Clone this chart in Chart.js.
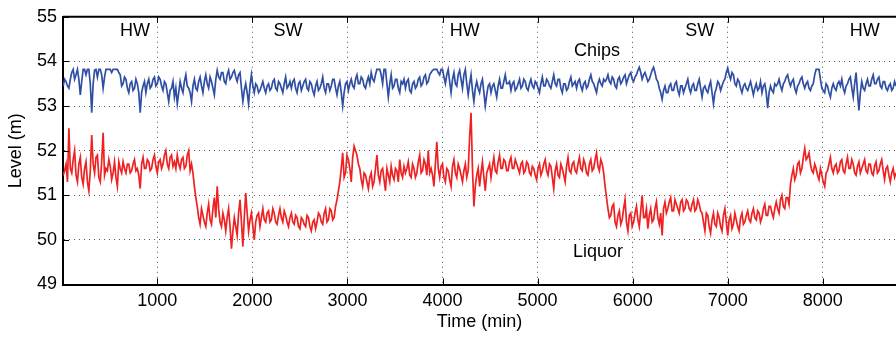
<!DOCTYPE html>
<html>
<head>
<meta charset="utf-8">
<title>Digester levels</title>
<script src="https://cdn.jsdelivr.net/npm/chart.js@4.4.1/dist/chart.umd.min.js"></script>
<style>
  html, body { margin: 0; padding: 0; background: #ffffff; }
  #wrap { width: 896px; height: 338px; position: relative; }
</style>
</head>
<body>
<div id="wrap"><canvas id="levels" width="896" height="338"></canvas></div>
<script>
// Sampling of the level logs (minutes)
const startMin = 10;
const stepMin = 15;

// Liquor level (m), one value per sample, 20 samples (300 min) per row
const liquorLevel = [
  51.45, 51.55, 51.7, 51.3, 52.5, 51.6, 51.5, 51.8, 52.0, 51.45, 51.3, 51.7, 51.85, 51.4, 51.25, 51.6, 51.75, 51.3, 51.1, 51.55,
  52.35, 51.7, 51.5, 51.85, 51.9, 51.4, 51.3, 51.75, 52.4, 51.45, 51.6, 51.55, 51.8, 51.65, 51.35, 51.5, 51.75, 51.4, 51.2, 51.75,
  51.6, 51.5, 51.75, 51.6, 51.5, 51.7, 51.7, 51.5, 51.55, 51.7, 51.8, 51.55, 51.6, 51.45, 51.15, 51.7, 51.85, 51.6, 51.6, 51.8,
  51.75, 51.55, 51.6, 51.8, 51.9, 51.65, 51.5, 51.75, 51.8, 51.6, 51.7, 51.9, 52.0, 51.7, 51.6, 51.85, 51.9, 51.65, 51.75, 51.6,
  51.9, 51.7, 51.6, 51.8, 51.85, 51.6, 51.65, 51.9, 52.0, 51.55, 51.7, 51.5, 51.2, 50.95, 50.75, 50.5, 50.35, 50.7, 50.55, 50.4,
  50.3, 50.6, 50.8, 50.45, 50.35, 50.7, 50.95, 50.5, 51.2, 50.7, 50.4, 50.3, 50.6, 50.45, 50.2, 50.5, 50.7, 50.3, 49.8, 50.2,
  50.5, 50.3, 50.1, 50.6, 50.9, 50.4, 49.85, 50.5, 51.05, 50.6, 50.2, 50.45, 50.6, 50.3, 50.0, 50.4, 50.55, 50.6, 50.3, 50.5,
  50.7, 50.45, 50.4, 50.6, 50.65, 50.4, 50.45, 50.7, 50.6, 50.4, 50.35, 50.55, 50.7, 50.5, 50.4, 50.65, 50.55, 50.4, 50.3, 50.5,
  50.6, 50.4, 50.35, 50.55, 50.5, 50.3, 50.25, 50.5, 50.45, 50.35, 50.3, 50.55, 50.5, 50.3, 50.2, 50.4, 50.45, 50.25, 50.4, 50.6,
  50.55, 50.4, 50.35, 50.6, 50.7, 50.4, 50.45, 50.7, 50.65, 50.45, 50.5, 50.75, 50.9, 51.1, 51.3, 51.6, 51.95, 51.4, 51.5, 51.9,
  51.8, 51.6, 51.3, 51.85, 52.1, 52.0, 51.9, 51.7, 51.6, 51.35, 51.2, 51.5, 51.45, 51.3, 51.15, 51.4, 51.5, 51.2, 51.3, 51.6,
  51.9, 51.45, 51.3, 51.55, 51.6, 51.35, 51.1, 51.6, 51.45, 51.3, 51.65, 51.45, 51.35, 51.6, 51.55, 51.3, 51.8, 51.5, 51.4, 51.65,
  51.5, 51.6, 51.75, 51.45, 51.4, 51.7, 51.6, 51.4, 51.5, 51.75, 51.9, 51.5, 51.55, 51.8, 51.7, 51.45, 52.0, 51.5, 51.6, 51.45,
  51.2, 51.7, 52.2, 51.6, 51.4, 51.65, 51.7, 51.4, 51.3, 51.6, 51.55, 51.35, 51.2, 51.65, 51.8, 51.5, 51.4, 51.7, 51.6, 51.45,
  51.3, 51.55, 51.7, 51.4, 51.55, 52.3, 52.85, 51.6, 50.75, 51.2, 51.45, 51.6, 51.2, 51.5, 51.75, 51.4, 51.1, 51.5, 51.6, 51.7,
  51.4, 51.65, 51.85, 51.55, 51.5, 51.75, 51.9, 51.6, 51.6, 51.8, 51.75, 51.55, 51.55, 51.75, 51.85, 51.6, 51.6, 51.8, 51.7, 51.6,
  51.5, 51.7, 51.75, 51.5, 51.55, 51.75, 51.7, 51.5, 51.45, 51.65, 51.6, 51.45, 51.35, 51.6, 51.7, 51.45, 51.55, 51.7, 51.8, 51.55,
  51.45, 51.7, 51.65, 51.4, 51.15, 51.55, 51.7, 51.45, 51.4, 51.7, 51.6, 51.45, 51.3, 51.65, 51.85, 51.55, 51.5, 51.7, 51.75, 51.55,
  51.5, 51.7, 51.85, 51.6, 51.55, 51.8, 51.7, 51.5, 51.45, 51.7, 51.8, 51.55, 51.6, 51.8, 51.95, 51.65, 51.55, 51.8, 51.7, 51.5,
  51.2, 50.95, 50.7, 50.5, 50.55, 50.75, 50.8, 50.4, 50.3, 50.55, 50.65, 50.35, 50.45, 50.7, 50.9, 50.4, 50.2, 50.55, 50.6, 50.3,
  50.4, 50.6, 50.75, 50.45, 50.3, 50.65, 51.0, 50.5, 50.5, 50.7, 50.25, 50.55, 50.7, 50.4, 50.45, 50.7, 50.85, 50.5, 50.35, 50.6,
  50.1, 50.7, 50.85, 50.6, 50.7, 50.85, 50.95, 50.65, 50.65, 50.9, 50.8, 50.7, 50.6, 50.85, 50.9, 50.65, 50.7, 50.9, 50.85, 50.7,
  50.65, 50.8, 50.9, 50.65, 50.7, 50.9, 50.8, 50.65, 50.6, 50.4, 50.2, 50.6, 50.55, 50.3, 50.15, 50.45, 50.6, 50.35, 50.3, 50.6,
  50.5, 50.3, 50.2, 50.55, 50.7, 50.4, 50.1, 50.45, 50.55, 50.25, 50.35, 50.6, 50.45, 50.3, 50.2, 50.5, 50.6, 50.35, 50.4, 50.55,
  50.65, 50.45, 50.4, 50.6, 50.7, 50.5, 50.45, 50.65, 50.6, 50.4, 50.5, 50.7, 50.8, 50.55, 50.55, 50.75, 50.75, 50.6, 50.5, 50.7,
  50.85, 50.7, 50.6, 50.9, 51.0, 50.75, 50.7, 50.95, 50.95, 50.8, 51.25, 51.45, 51.6, 51.35, 51.45, 51.7, 51.75, 51.5, 51.6, 51.85,
  52.05, 51.8, 51.85, 51.95, 51.7, 51.55, 51.5, 51.7, 51.6, 51.45, 51.35, 51.6, 51.45, 51.3, 51.2, 51.5, 51.55, 51.7, 51.85, 51.6,
  51.5, 51.65, 51.7, 51.5, 51.55, 51.75, 51.8, 51.55, 51.5, 51.7, 51.85, 51.6, 51.6, 51.8, 51.7, 51.5, 51.45, 51.65, 51.75, 51.5,
  51.6, 51.7, 51.8, 51.55, 51.5, 51.7, 51.7, 51.5, 51.45, 51.65, 51.75, 51.5, 51.55, 51.7, 51.8, 51.55, 51.35, 51.6, 51.65, 51.45,
  51.3, 51.5, 51.6, 51.4, 51.5
];

// Chips level (m), one value per sample, 20 samples (300 min) per row
const chipsLevel = [
  53.45, 53.6, 53.55, 53.45, 53.4, 53.6, 53.75, 53.82, 53.6, 53.7, 53.82, 53.6, 53.25, 53.55, 53.82, 53.82, 53.7, 53.82, 53.82, 53.5,
  52.85, 53.5, 53.8, 53.82, 53.65, 53.82, 53.82, 53.7, 53.4, 53.65, 53.82, 53.82, 53.82, 53.82, 53.75, 53.82, 53.82, 53.82, 53.82, 53.75,
  53.7, 53.45, 53.5, 53.65, 53.6, 53.4, 53.3, 53.5, 53.55, 53.35, 53.4, 53.6, 53.5, 53.3, 52.85, 53.3, 53.45, 53.55, 53.3, 53.5,
  53.6, 53.4, 53.45, 53.6, 53.65, 53.45, 53.5, 53.65, 53.6, 53.45, 53.35, 53.55, 53.5, 53.3, 53.1, 53.35, 53.4, 53.55, 53.2, 53.4,
  53.05, 53.3, 53.55, 53.4, 53.3, 53.55, 53.7, 53.45, 53.4, 53.3, 53.1, 53.45, 53.6, 53.4, 53.35, 53.55, 53.65, 53.45, 53.3, 53.55,
  53.7, 53.5, 53.4, 53.65, 53.55, 53.4, 53.25, 53.6, 53.8, 53.65, 53.6, 53.75, 53.75, 53.55, 53.5, 53.7, 53.8, 53.6, 53.65, 53.75,
  53.8, 53.65, 53.55, 53.7, 53.75, 53.4, 53.1, 53.35, 53.5, 53.3, 53.05, 53.45, 53.7, 53.45, 53.3, 53.5, 53.45, 53.3, 53.35, 53.45,
  53.55, 53.4, 53.3, 53.45, 53.5, 53.35, 53.4, 53.55, 53.6, 53.4, 53.35, 53.55, 53.5, 53.4, 53.3, 53.5, 53.65, 53.4, 53.45, 53.55,
  53.4, 53.55, 53.6, 53.4, 53.3, 53.5, 53.55, 53.35, 53.45, 53.55, 53.6, 53.4, 53.35, 53.55, 53.5, 53.35, 53.25, 53.45, 53.55, 53.35,
  53.4, 53.5, 53.65, 53.4, 53.3, 53.5, 53.5, 53.35, 53.45, 53.6, 53.6, 53.4, 53.25, 53.45, 53.55, 53.3, 53.0, 53.3, 53.5, 53.55,
  53.35, 53.5, 53.6, 53.45, 53.4, 53.6, 53.7, 53.5, 53.5, 53.65, 53.6, 53.45, 53.4, 53.55, 53.65, 53.5, 53.75, 53.6, 53.55, 53.7,
  53.82, 53.82, 53.82, 53.7, 53.5, 53.82, 53.82, 53.5, 53.2, 53.5, 53.7, 53.4, 53.45, 53.6, 53.6, 53.4, 53.3, 53.55, 53.5, 53.6,
  53.4, 53.55, 53.6, 53.35, 53.3, 53.5, 53.55, 53.4, 53.45, 53.6, 53.65, 53.45, 53.5, 53.65, 53.7, 53.5, 53.55, 53.7, 53.75, 53.8,
  53.82, 53.82, 53.82, 53.75, 53.7, 53.82, 53.82, 53.65, 53.5, 53.7, 53.82, 53.55, 53.3, 53.6, 53.75, 53.5, 53.45, 53.7, 53.8, 53.6,
  53.4, 53.7, 53.82, 53.5, 53.25, 53.5, 53.7, 53.35, 53.1, 53.4, 53.55, 53.4, 53.3, 53.5, 53.6, 53.3, 53.0, 53.25, 53.45, 53.5,
  53.3, 53.45, 53.5, 53.35, 53.2, 53.45, 53.6, 53.4, 53.4, 53.55, 53.7, 53.5, 53.5, 53.55, 53.35, 53.5, 53.55, 53.35, 53.4, 53.5,
  53.6, 53.4, 53.45, 53.6, 53.55, 53.4, 53.35, 53.5, 53.6, 53.45, 53.4, 53.55, 53.5, 53.4, 53.3, 53.5, 53.65, 53.45, 53.45, 53.6,
  53.55, 53.45, 53.4, 53.55, 53.7, 53.5, 53.45, 53.6, 53.6, 53.4, 53.3, 53.5, 53.5, 53.35, 53.4, 53.55, 53.65, 53.45, 53.5, 53.55,
  53.4, 53.55, 53.6, 53.45, 53.35, 53.5, 53.55, 53.4, 53.45, 53.6, 53.7, 53.55, 53.5, 53.4, 53.3, 53.5, 53.6, 53.5, 53.45, 53.6,
  53.55, 53.6, 53.7, 53.55, 53.5, 53.65, 53.6, 53.45, 53.4, 53.6, 53.65, 53.5, 53.55, 53.65, 53.7, 53.5, 53.6, 53.7, 53.75, 53.6,
  53.55, 53.65, 53.7, 53.8, 53.87, 53.75, 53.6, 53.7, 53.75, 53.65, 53.55, 53.6, 53.7, 53.8, 53.87, 53.75, 53.6, 53.55, 53.4, 53.3,
  53.15, 53.35, 53.45, 53.3, 53.3, 53.45, 53.5, 53.35, 53.35, 53.5, 53.55, 53.35, 53.25, 53.45, 53.45, 53.3, 53.4, 53.5, 53.6, 53.4,
  53.3, 53.45, 53.5, 53.35, 53.35, 53.5, 53.6, 53.4, 53.2, 53.4, 53.45, 53.35, 53.3, 53.45, 53.55, 53.3, 53.05, 53.3, 53.4, 53.55,
  53.5, 53.35, 53.45, 53.55, 53.6, 53.75, 53.85, 53.7, 53.6, 53.75, 53.7, 53.5, 53.45, 53.6, 53.55, 53.4, 53.3, 53.45, 53.5, 53.4,
  53.35, 53.45, 53.55, 53.4, 53.25, 53.4, 53.5, 53.35, 53.4, 53.55, 53.3, 53.45, 53.5, 53.3, 52.95, 53.3, 53.45, 53.35, 53.3, 53.5,
  53.45, 53.5, 53.6, 53.45, 53.35, 53.5, 53.55, 53.65, 53.7, 53.55, 53.45, 53.55, 53.6, 53.4, 53.3, 53.45, 53.5, 53.6, 53.65, 53.5,
  53.4, 53.5, 53.55, 53.4, 53.35, 53.45, 53.5, 53.7, 53.82, 53.82, 53.82, 53.6, 53.4, 53.35, 53.3, 53.5, 53.45, 53.3, 53.2, 53.4,
  53.5, 53.4, 53.35, 53.5, 53.55, 53.45, 53.6, 53.4, 53.3, 53.45, 53.5, 53.6, 53.65, 53.4, 53.2, 53.5, 53.75, 53.3, 52.9, 53.3,
  53.55, 53.4, 53.35, 53.5, 53.6, 53.45, 53.45, 53.6, 53.7, 53.5, 53.5, 53.6, 53.65, 53.45, 53.4, 53.55, 53.55, 53.4, 53.35, 53.45,
  53.5, 53.35, 53.4, 53.55, 53.45
];

// Axis ticks
const timeTicks = [1000, 2000, 3000, 4000, 5000, 6000, 7000, 8000];
const levelTicks = [49, 50, 51, 52, 53, 54, 55];

// Wood-type periods (hardwood / softwood) and series names
const phaseNames = ['HW', 'SW', 'HW', 'SW', 'HW'];
const seriesNames = ['Chips', 'Liquor'];

const toPoints = (vals) => vals.map((v, i) => ({ x: startMin + i * stepMin, y: v }));

const FONT = "'Liberation Sans', Arial, Helvetica, sans-serif";
const PLOT_LEFT = 63, PLOT_TOP = 6.5, PLOT_BOTTOM = 284.5;

// Frame, inward tick marks and the in-plot captions
const framePlugin = {
  id: 'frame',
  afterDatasetsDraw(chart) {
    const { ctx, chartArea: a, scales: { x, y } } = chart;
    ctx.save();
    ctx.strokeStyle = '#000';
    ctx.lineWidth = 1;
    ctx.beginPath();
    for (const t of timeTicks) {
      const px = Math.round(x.getPixelForValue(t)) + 0.5;
      ctx.moveTo(px, a.bottom); ctx.lineTo(px, a.bottom - 6);
      ctx.moveTo(px, a.top); ctx.lineTo(px, a.top + 6);
    }
    for (const v of levelTicks) {
      const py = Math.round(y.getPixelForValue(v)) + 0.5;
      ctx.moveTo(a.left, py); ctx.lineTo(a.left + 6, py);
    }
    ctx.stroke();
    ctx.lineWidth = 2;
    ctx.beginPath();
    ctx.moveTo(a.left, a.top); ctx.lineTo(a.right, a.top);
    ctx.stroke();

    ctx.fillStyle = '#000';
    ctx.font = '18px ' + FONT;
    ctx.textAlign = 'center';
    ctx.textBaseline = 'middle';
    const phaseAt = [765, 2375, 4235, 6705, 8440];
    phaseNames.forEach((n, i) => {
      ctx.fillText(n, x.getPixelForValue(phaseAt[i]), y.getPixelForValue(54.67));
    });
    ctx.fillText(seriesNames[0], x.getPixelForValue(5625), y.getPixelForValue(54.23));
    ctx.fillText(seriesNames[1], x.getPixelForValue(5635), y.getPixelForValue(49.72));
    ctx.restore();
  }
};

new Chart(document.getElementById('levels'), {
  type: 'line',
  data: {
    datasets: [
      {
        label: seriesNames[0],
        data: toPoints(chipsLevel),
        borderColor: '#2f4fa2',
        borderWidth: 1.7,
        pointRadius: 0,
        tension: 0
      },
      {
        label: seriesNames[1],
        data: toPoints(liquorLevel),
        borderColor: '#ee2222',
        borderWidth: 1.7,
        pointRadius: 0,
        tension: 0
      }
    ]
  },
  options: {
    responsive: false,
    animation: false,
    events: [],
    layout: { padding: { left: 0, right: 0, top: PLOT_TOP, bottom: 0 } },
    plugins: { legend: { display: false }, tooltip: { enabled: false } },
    scales: {
      x: {
        type: 'linear',
        min: 8,
        max: 8770,
        afterBuildTicks: (s) => { s.ticks = timeTicks.map(v => ({ value: v })); },
        afterFit: (s) => { s.height = 338 - PLOT_BOTTOM; },
        ticks: { color: '#000', font: { family: FONT, size: 18 }, padding: 6, maxRotation: 0,
                 callback: (v) => String(v) },
        grid: { color: '#555', drawTicks: false, lineWidth: 1 },
        border: { display: true, color: '#000', width: 2, dash: [1, 4] },
        title: { display: true, text: 'Time (min)', color: '#000', font: { family: FONT, size: 18 }, padding: { top: 0, bottom: 5 } }
      },
      y: {
        min: 49,
        max: 55,
        afterBuildTicks: (s) => { s.ticks = levelTicks.map(v => ({ value: v })); },
        afterFit: (s) => { s.width = PLOT_LEFT; },
        ticks: { color: '#000', font: { family: FONT, size: 18 }, padding: 6,
                 callback: (v) => String(v) },
        grid: { color: '#555', drawTicks: false, lineWidth: 1 },
        border: { display: true, color: '#000', width: 2, dash: [1, 4] },
        title: { display: true, text: 'Level (m)', color: '#000', font: { family: FONT, size: 18 }, padding: { top: 5, bottom: 0 } }
      }
    }
  },
  plugins: [framePlugin]
});
</script>
</body>
</html>
